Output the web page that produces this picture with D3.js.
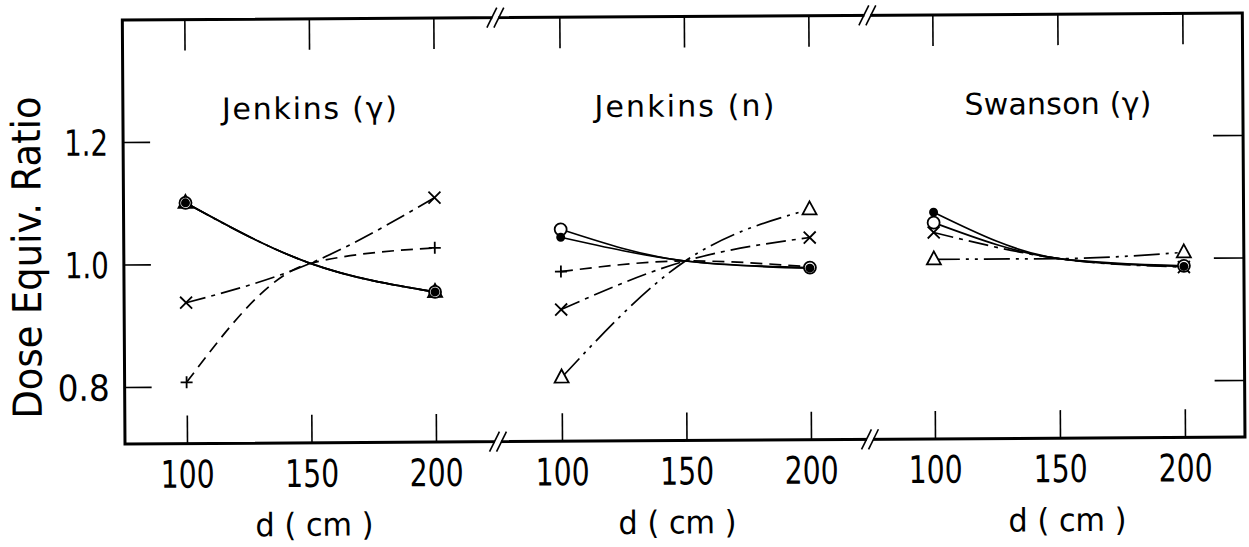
<!doctype html>
<html lang="en">
<head>
<meta charset="utf-8">
<title>Dose Equiv. Ratio vs d</title>
<script src="https://cdn.jsdelivr.net/npm/d3@7"></script>
<style>
  html, body { margin: 0; padding: 0; background: #fff; }
  svg { display: block; }
  text { font-family: "DejaVu Sans", "Liberation Sans", sans-serif; fill: #000; }
</style>
</head>
<body>
<svg id="chart" width="1249" height="547"></svg>
<script>
// distances (cm) along each panel's x axis
const distances = [100, 150, 200];
const panelTitles = ["Jenkins (\u03b3)", "Jenkins (n)", "Swanson (\u03b3)"];
const yTicks = [0.8, 1.0, 1.2];

// dose equivalent ratios, one row per panel, values at 100 / 150 / 200 cm
const openCircle   = [[1.100, 1.0, 0.952], [1.053, 1.0, 0.988], [1.060, 1.0, 0.987]];
const filledCircle = [[1.100, 1.0, 0.952], [1.040, 1.0, 0.987], [1.077, 1.0, 0.986]];
const triangle     = [[1.100, 1.0, 0.952], [0.811, 1.0, 1.083], [1.000, 1.0, 1.009]];
const cross        = [[0.937, 1.0, 1.106], [0.922, 1.0, 1.037], [1.044, 1.0, 0.985]];
const plus         = [[0.807, 1.0, 1.024], [0.984, 1.0, 0.989], null];

const svg = d3.select("#chart");
// the scanned figure is tilted a little, so the whole plot is too
const g = svg.append("g").attr("transform", "rotate(-0.36,125,444)");

const fLeft = 125, fRight = 1245, fTop = 20, fBottom = 444;
const panelRanges = [[187, 436], [562, 811], [935, 1185]];
const breaks = [498, 870];

const y = d3.scaleLinear().domain([0.8, 1.2]).range([387, 142]);

// series styles: drawn in this order
const series = [
  { data: triangle,     dash: "26,6,3,6,3,6", mark: "triangle" },
  { data: plus,         dash: "12,7",         mark: "plus" },
  { data: cross,        dash: "20,6,4,6",     mark: "cross" },
  { data: openCircle,   dash: null,           mark: "open" },
  { data: filledCircle, dash: null,           mark: "filled" }
];

function drawMark(sel, type, cx, cy) {
  if (type === "open") {
    sel.append("circle").attr("cx", cx).attr("cy", cy).attr("r", 6)
      .attr("fill", "#fff").attr("stroke", "#000").attr("stroke-width", 1.8);
  } else if (type === "filled") {
    sel.append("circle").attr("cx", cx).attr("cy", cy).attr("r", 4.5).attr("fill", "#000");
  } else if (type === "triangle") {
    sel.append("path")
      .attr("d", `M${cx},${cy - 8}L${cx + 7},${cy + 5}L${cx - 7},${cy + 5}Z`)
      .attr("fill", "#fff").attr("stroke", "#000").attr("stroke-width", 1.8);
  } else if (type === "cross") {
    sel.append("path")
      .attr("d", `M${cx - 6},${cy - 6}L${cx + 6},${cy + 6}M${cx - 6},${cy + 6}L${cx + 6},${cy - 6}`)
      .attr("stroke", "#000").attr("stroke-width", 1.8);
  } else if (type === "plus") {
    sel.append("path")
      .attr("d", `M${cx - 6},${cy}L${cx + 6},${cy}M${cx},${cy - 6}L${cx},${cy + 6}`)
      .attr("stroke", "#000").attr("stroke-width", 1.8);
  }
}

panelTitles.forEach((title, p) => {
  const x = d3.scaleLinear().domain([100, 200]).range(panelRanges[p]);

  // bottom ticks + labels
  const bx = g.append("g").attr("transform", `translate(0,${fBottom})`)
    .call(d3.axisBottom(x).tickValues(distances).tickSizeInner(-28).tickSizeOuter(0));
  bx.select(".domain").remove();
  bx.selectAll("line").attr("stroke-width", 1.6);
  bx.selectAll("text").attr("y", 44).attr("dy", null)
    .attr("font-size", 38).attr("textLength", 54).attr("lengthAdjust", "spacingAndGlyphs");

  // top ticks
  const tx = g.append("g").attr("transform", `translate(0,${fTop})`)
    .call(d3.axisTop(x).tickValues(distances).tickSizeInner(-31).tickSizeOuter(0).tickFormat(""));
  tx.select(".domain").remove();
  tx.selectAll("line").attr("stroke-width", 1.6);

  // panel title
  g.append("text").attr("x", d3.mean(panelRanges[p])).attr("y", 120)
    .attr("text-anchor", "middle").attr("font-size", 30)
    .attr("textLength", [175, 180, 187][p]).attr("lengthAdjust", "spacing")
    .text(title);

  // x axis title
  g.append("text").attr("x", [314, 677, 1067][p]).attr("y", 537)
    .attr("text-anchor", "middle").attr("font-size", 32)
    .attr("textLength", 118).attr("lengthAdjust", "spacingAndGlyphs")
    .text("d ( cm )");

  const line = d3.line()
    .x((d, i) => x(distances[i]))
    .y(d => y(d))
    .curve(d3.curveMonotoneX);

  series.forEach(s => {
    const vals = s.data[p];
    if (!vals) return;
    g.append("path").attr("d", line(vals))
      .attr("fill", "none").attr("stroke", "#000").attr("stroke-width", 1.7)
      .attr("stroke-dasharray", s.dash);
  });
  series.forEach(s => {
    const vals = s.data[p];
    if (!vals) return;
    [0, 2].forEach(i => drawMark(g, s.mark, x(distances[i]), y(vals[i])));
  });
});

// left axis
const ly = g.append("g").attr("transform", `translate(${fLeft},0)`)
  .call(d3.axisLeft(y).tickValues(yTicks).tickFormat(d3.format(".1f"))
    .tickSizeInner(-27).tickSizeOuter(0).tickPadding(15));
ly.select(".domain").remove();
ly.selectAll("line").attr("stroke-width", 1.6);
ly.selectAll("text").attr("font-size", 36).attr("dy", "0.36em")
  .attr("textLength", d => d === 0.8 ? 52 : 44).attr("lengthAdjust", "spacingAndGlyphs");

// right axis
const ry = g.append("g").attr("transform", `translate(${fRight},0)`)
  .call(d3.axisRight(y).tickValues(yTicks).tickSizeInner(-30).tickSizeOuter(0).tickFormat(""));
ry.select(".domain").remove();
ry.selectAll("line").attr("stroke-width", 1.6);

// y axis title
g.append("text").attr("transform", "translate(42,257) rotate(-90)")
  .attr("text-anchor", "middle").attr("font-size", 40)
  .attr("textLength", 322).attr("lengthAdjust", "spacingAndGlyphs")
  .text("Dose Equiv. Ratio");

// frame
g.append("path")
  .attr("d", `M${fLeft},${fTop}L${fRight},${fTop}L${fRight},${fBottom}L${fLeft},${fBottom}Z`)
  .attr("fill", "none").attr("stroke", "#000").attr("stroke-width", 3);

// axis breaks
breaks.forEach(bx => {
  [fTop, fBottom].forEach(by => {
    g.append("rect").attr("x", bx - 3).attr("y", by - 3).attr("width", 6).attr("height", 6)
      .attr("fill", "#fff");
    [-3.5, 3.5].forEach(d => {
      g.append("line")
        .attr("x1", bx + d - 5).attr("y1", by + 10)
        .attr("x2", bx + d + 5).attr("y2", by - 10)
        .attr("stroke", "#000").attr("stroke-width", 1.6);
    });
  });
});
</script>
</body>
</html>
